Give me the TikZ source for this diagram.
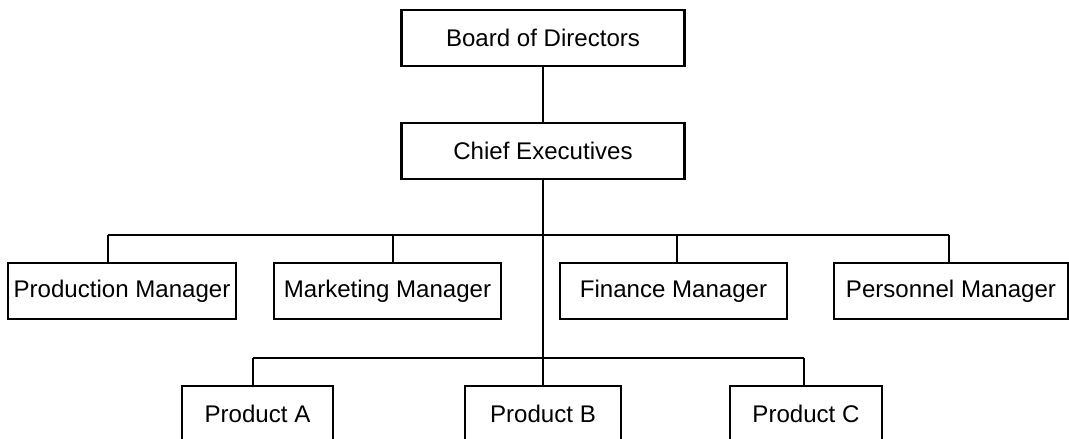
\documentclass[tikz,border=0pt]{standalone}
\usepackage{fontspec}
\setmainfont{Liberation Sans}

\begin{document}
\begin{tikzpicture}[x=0.02cm, y=-0.02cm, every node/.style={draw, minimum height=1.12cm, inner sep=0pt, font=\fontsize{13.7}{16}\selectfont}, every path/.style={very thick}]
        \useasboundingbox (0,0) rectangle (1069,439);

        \node[rectangle, minimum width=5.66cm] (1) at (543,38) {Board of Directors};
        \node[rectangle, minimum width=5.66cm] (2) at (543,151) {Chief Executives};
        \node[rectangle, minimum width=4.56cm] (3) at (122,291) {Production Manager};
        \node[rectangle, minimum width=4.54cm] (4) at (387.5,291) {Marketing Manager};
        \node[rectangle, minimum width=4.54cm] (5) at (673.5,291) {Finance Manager};
        \node[rectangle, minimum width=4.68cm] (6) at (951,291) {Personnel Manager};
        \node[rectangle, minimum width=3.02cm] (7) at (257.5,414) {Product A};
        \node[rectangle, minimum width=3.12cm] (8) at (543,414) {Product B};
        \node[rectangle, minimum width=3.04cm] (9) at (806,414) {Product C};

        \coordinate (m1) at (108,235);
        \coordinate (m2) at (393,235);
        \coordinate (m3) at (677,235);
        \coordinate (m4) at (949,235);
        \coordinate (p1) at (253,358);
        \coordinate (p3) at (804,358);

        \draw (1) -- (2);
        \draw (2) -- (8);
        \draw (m1) -- (m4);
        \draw (p1) -- (p3);
        \draw (m1) -- (m1 |- 3.north);
        \draw (m2) -- (m2 |- 4.north);
        \draw (m3) -- (m3 |- 5.north);
        \draw (m4) -- (m4 |- 6.north);
        \draw (p1) -- (p1 |- 7.north);
        \draw (p3) -- (p3 |- 9.north);

        \end{tikzpicture}
\end{document}
